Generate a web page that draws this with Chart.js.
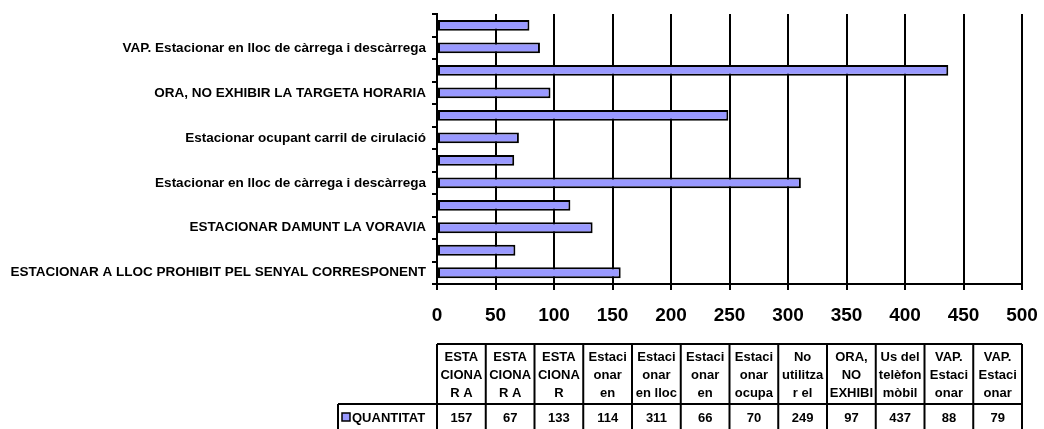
<!DOCTYPE html>
<html>
<head>
<meta charset="utf-8">
<script src="https://cdn.jsdelivr.net/npm/chart.js@4/dist/chart.umd.min.js"></script>
<style>
  html, body { margin: 0; padding: 0; background: #fff; }
  #wrap { width: 1044px; height: 429px; }
</style>
</head>
<body>
<div id="wrap"><canvas id="myChart" width="1044" height="429"></canvas></div>
<script>
// categories, bottom to top (same order as the table columns)
const categories = [
  'ESTACIONAR A LLOC PROHIBIT PEL SENYAL CORRESPONENT',
  'ESTACIONAR A',
  'ESTACIONAR DAMUNT LA VORAVIA',
  'Estacionar en',
  'Estacionar en lloc de càrrega i descàrrega',
  'Estacionar en',
  'Estacionar ocupant carril de cirulació',
  'No utilitzar el',
  'ORA, NO EXHIBIR LA TARGETA HORARIA',
  'Us del telèfon mòbil',
  'VAP. Estacionar en lloc de càrrega i descàrrega',
  'VAP. Estacionar'
];
const quantitat = [157, 67, 133, 114, 311, 66, 70, 249, 97, 437, 88, 79];
// header text of the data table, as it is wrapped and cut in the picture
const tableHeads = [
  ['ESTA', 'CIONA', 'R A'],
  ['ESTA', 'CIONA', 'R A'],
  ['ESTA', 'CIONA', 'R'],
  ['Estaci', 'onar', 'en'],
  ['Estaci', 'onar', 'en lloc'],
  ['Estaci', 'onar', 'en'],
  ['Estaci', 'onar', 'ocupa'],
  ['No', 'utilitza', 'r el'],
  ['ORA,', 'NO', 'EXHIBI'],
  ['Us del', 'telèfon', 'mòbil'],
  ['VAP.', 'Estaci', 'onar'],
  ['VAP.', 'Estaci', 'onar']
];
const xTicks = [0, 50, 100, 150, 200, 250, 300, 350, 400, 450, 500];
const seriesName = 'QUANTITAT';

const FONT = 'Arial, "Liberation Sans", sans-serif';
const BAR = '#9999FF';

// data table under the x axis
const tablePlugin = {
  id: 'dataTable',
  afterDraw(chart) {
    const ctx = chart.ctx;
    const x = chart.scales.x;
    const left = x.left, right = x.right;
    const colW = (right - left) / categories.length;
    const top = 344, mid = 404, bot = 430, legLeft = 338;
    ctx.save();
    ctx.strokeStyle = '#000';
    ctx.lineWidth = 2;
    ctx.beginPath();
    ctx.moveTo(left, top); ctx.lineTo(right, top);
    ctx.moveTo(legLeft, mid); ctx.lineTo(right, mid);
    ctx.moveTo(legLeft, bot); ctx.lineTo(right, bot);
    ctx.moveTo(legLeft, mid); ctx.lineTo(legLeft, bot);
    for (let i = 0; i <= categories.length; i++) {
      const cx = left + i * colW;
      ctx.moveTo(cx, top); ctx.lineTo(cx, bot);
    }
    ctx.stroke();

    ctx.fillStyle = '#000';
    ctx.font = 'bold 13px ' + FONT;
    ctx.textAlign = 'center';
    ctx.textBaseline = 'middle';
    tableHeads.forEach((lines, i) => {
      const cx = left + (i + 0.5) * colW;
      ctx.save();
      ctx.beginPath();
      ctx.rect(left + i * colW + 1, top + 1, colW - 2, mid - top - 2);
      ctx.clip();
      lines.forEach((t, j) => ctx.fillText(t, cx, 357 + j * 18));
      ctx.restore();
      ctx.fillText(String(quantitat[i]), cx, 418);
    });

    // legend key
    ctx.fillStyle = BAR;
    ctx.fillRect(342, 413, 8, 8);
    ctx.lineWidth = 1.5;
    ctx.strokeRect(342, 413, 8, 8);
    ctx.fillStyle = '#000';
    ctx.textAlign = 'left';
    ctx.fillText(seriesName, 352, 418);
    ctx.restore();
  }
};

new Chart(document.getElementById('myChart'), {
  type: 'bar',
  data: {
    labels: categories,
    datasets: [{
      label: seriesName,
      data: quantitat,
      backgroundColor: BAR,
      borderColor: '#000',
      borderWidth: 2,
      borderSkipped: false,
      barPercentage: 0.48,
      categoryPercentage: 1
    }]
  },
  options: {
    indexAxis: 'y',
    responsive: false,
    animation: false,
    devicePixelRatio: 1,
    layout: { padding: { left: 0, top: 13, right: 22, bottom: 100 } },
    plugins: {
      legend: { display: false },
      tooltip: { enabled: false }
    },
    scales: {
      x: {
        min: xTicks[0],
        max: xTicks[xTicks.length - 1],
        afterBuildTicks: s => { s.ticks = xTicks.map(v => ({ value: v })); },
        afterFit: s => { s.height = 45; s.paddingRight = 0; s.paddingLeft = 0; },
        grid: { color: '#000', lineWidth: 2, tickLength: 6 },
        border: { color: '#000', width: 2 },
        ticks: {
          color: '#000',
          padding: 14,
          font: { family: FONT, size: 19, weight: 'bold' }
        }
      },
      y: {
        reverse: true,
        afterFit: s => { s.width = 437; },
        grid: { drawOnChartArea: false, color: '#000', lineWidth: 2, tickLength: 5, offset: true },
        border: { color: '#000', width: 2 },
        ticks: {
          autoSkip: false,
          color: '#000',
          padding: 6,
          font: { family: FONT, size: 13.5, weight: 'bold' },
          callback: function (v, i) { return i % 2 === 0 ? this.getLabelForValue(v) : ''; }
        }
      }
    }
  },
  plugins: [tablePlugin]
});
</script>
</body>
</html>
